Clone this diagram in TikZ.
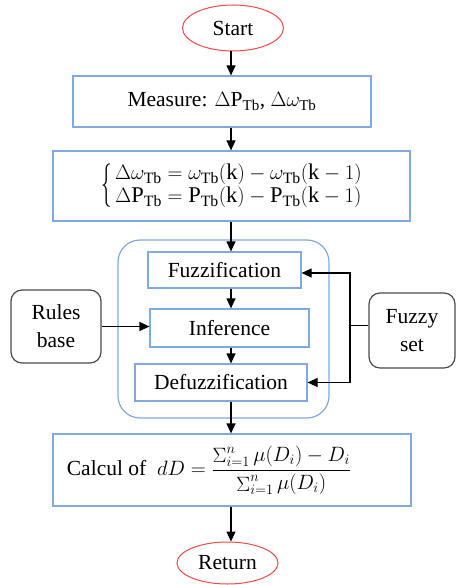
\documentclass[tikz,border=0pt]{standalone}
\usepackage{fontspec}
\usepackage{graphicx}
\setmainfont{Liberation Serif}
\usetikzlibrary{shapes.geometric,arrows.meta}
\definecolor{boxblue}{HTML}{7FA9E0}
\definecolor{termred}{HTML}{F04848}
\definecolor{sidegray}{HTML}{4A4A4A}
\newcommand{\flatsum}{\mathop{\Sigma}\nolimits}
\newcommand{\tallbrace}{\vcenter{\hbox{\scalebox{1}[2.1]{$\{$}}}}
\begin{document}
\begin{tikzpicture}[x=1pt,y=-1pt,
  every node/.style={font=\rmfamily\fontsize{21.5}{24}\selectfont, inner sep=0pt},
  terminal/.style={ellipse, draw=termred, line width=1pt, minimum width=101pt},
  procbox/.style={rectangle, draw=boxblue, line width=1.2pt},
  sidebox/.style={rectangle, rounded corners=11pt, draw=sidegray, line width=1.2pt,
    align=center, font=\rmfamily\fontsize{21.5}{28}\selectfont},
  arr/.style={line width=1.2pt, -{Triangle[length=10pt,width=9pt]}},
  link/.style={line width=1.2pt}]
\useasboundingbox (0,0) rectangle (456,585);
\fill[white] (0,0) rectangle (456,585);
\coordinate (axis) at (231,0);
\coordinate (bus) at (350,0);

% terminals
\node[terminal, minimum height=46pt] (start) at (233,28) {Start};
\node[terminal, minimum height=42pt] (return) at (227.5,563) {Return};

% main processing column
\node[procbox, minimum width=298pt, minimum height=51pt] (measure) at (222,101.5)
  {Measure: $\Delta\mathrm{P}_{\mathrm{Tb}}$, $\Delta\omega_{\mathrm{Tb}}$};
\node[procbox, minimum width=357pt, minimum height=70pt,
  font=\rmfamily\fontsize{22.5}{25}\selectfont] (diff) at (231.5,186)
  {$\tallbrace\begin{array}{@{\,}c@{}}
    \Delta\omega_{\mathrm{Tb}} = \omega_{\mathrm{Tb}}(\mathrm{k}) - \omega_{\mathrm{Tb}}(\mathrm{k}-1)\\[-2pt]
    \Delta\mathrm{P}_{\mathrm{Tb}} = \mathrm{P}_{\mathrm{Tb}}(\mathrm{k}) - \mathrm{P}_{\mathrm{Tb}}(\mathrm{k}-1)
  \end{array}$};

% fuzzy controller block
\node[rectangle, rounded corners=22pt, draw=boxblue, line width=1.2pt,
  minimum width=211pt, minimum height=178pt] (flc) at (223.5,329) {};
\node[procbox, minimum width=153pt, minimum height=36pt] (fuzz) at (224.5,270) {Fuzzification};
\node[procbox, minimum width=159pt, minimum height=38pt] (infer) at (229.5,328) {Inference};
\node[procbox, minimum width=172pt, minimum height=37pt] (defuzz) at (221,382.5) {Defuzzification};

\node[sidebox, minimum width=90pt, minimum height=73pt] (rules) at (56,326.5) {Rules\\base};
\node[sidebox, minimum width=86pt, minimum height=75pt] (fset) at (412,330.5) {Fuzzy\\set};

\node[procbox, minimum width=358pt, minimum height=72pt] (calc) at (232,470)
  {Calcul of \ {\fontsize{21}{24}\selectfont$\displaystyle dD = \frac{\textstyle\flatsum_{i=1}^{n}\mu(D_i) - D_i}{\textstyle\flatsum_{i=1}^{n}\mu(D_i)}$}\hspace*{46pt}};

% connectors
\draw[arr] (start.south -| axis) -- (measure.north -| axis);
\draw[arr] (measure.south -| axis) -- (diff.north -| axis);
\draw[arr] (diff.south -| axis) -- (fuzz.north -| axis);
\draw[arr] (fuzz.south -| axis) -- (infer.north -| axis);
\draw[arr] (infer.south -| axis) -- (defuzz.north -| axis);
\draw[arr] (defuzz.south -| axis) -- (calc.north -| axis);
\draw[arr] (calc.south -| axis) -- (return.north -| axis);
\draw[arr] (rules.east) -- (infer.west |- rules.east);
\coordinate (tap) at ([yshift=5pt]fset.west);
\draw[link] (tap) -- (tap -| bus);
\draw[arr] (tap -| bus) |- ([yshift=-3pt]fuzz.east);
\draw[arr] (tap -| bus) |- (defuzz.east);
\end{tikzpicture}
\end{document}
